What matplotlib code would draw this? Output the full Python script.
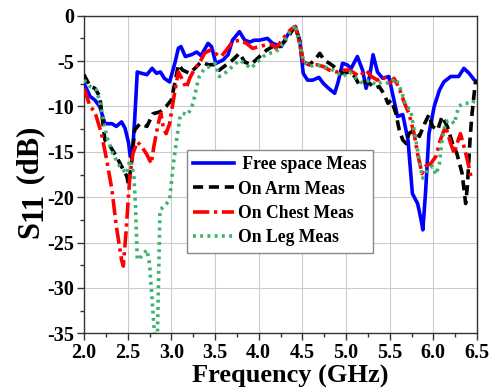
import matplotlib
matplotlib.use("Agg")
import matplotlib.pyplot as plt
from matplotlib.ticker import MultipleLocator

plt.rcParams['font.family'] = ['Liberation Serif', 'DejaVu Serif']
plt.rcParams['font.weight'] = 'bold'

free_f = [2.0, 2.07, 2.125, 2.18, 2.24, 2.32, 2.37, 2.43, 2.47, 2.51, 2.53, 2.56, 2.58, 2.61, 2.66, 2.72, 2.78, 2.83, 2.875, 2.92, 2.98, 3.04, 3.08, 3.11, 3.16, 3.23, 3.29, 3.34, 3.42, 3.46, 3.51, 3.59, 3.65, 3.70, 3.78, 3.84, 3.90, 3.95, 4.01, 4.10, 4.16, 4.26, 4.32, 4.375, 4.42, 4.47, 4.51, 4.56, 4.62, 4.69, 4.74, 4.80, 4.87, 4.91, 4.96, 5.01, 5.06, 5.13, 5.19, 5.23, 5.27, 5.31, 5.36, 5.42, 5.49, 5.54, 5.59, 5.65, 5.71, 5.76, 5.82, 5.86, 5.88, 5.91, 5.95, 6.01, 6.07, 6.12, 6.20, 6.29, 6.35, 6.41, 6.47, 6.50]
free_s = [-7.45, -8.9, -9.3, -10.0, -11.9, -11.9, -12.2, -11.7, -12.4, -14.0, -15.5, -14.4, -11.5, -6.2, -6.35, -6.5, -5.8, -6.35, -6.2, -6.9, -7.3, -5.25, -3.6, -3.4, -4.5, -4.3, -4.0, -4.4, -3.05, -3.4, -5.25, -4.9, -4.3, -2.7, -1.76, -2.7, -2.9, -2.7, -2.7, -2.5, -3.05, -3.4, -2.3, -1.5, -1.2, -2.7, -6.35, -7.1, -7.1, -6.8, -7.45, -8.0, -8.55, -7.3, -5.25, -5.4, -5.8, -4.5, -6.0, -8.0, -6.7, -4.3, -6.2, -6.9, -6.7, -8.9, -11.1, -10.9, -13.7, -19.6, -20.7, -22.5, -23.6, -19.6, -13.0, -10.0, -8.2, -7.3, -6.7, -6.7, -5.8, -6.35, -7.1, -7.3]

arm_f = [2.0, 2.07, 2.125, 2.18, 2.24, 2.30, 2.37, 2.43, 2.49, 2.51, 2.54, 2.58, 2.64, 2.72, 2.79, 2.87, 2.94, 3.0, 3.04, 3.08, 3.13, 3.21, 3.27, 3.34, 3.42, 3.50, 3.55, 3.63, 3.70, 3.78, 3.84, 3.91, 4.01, 4.09, 4.16, 4.24, 4.32, 4.38, 4.42, 4.47, 4.51, 4.58, 4.64, 4.70, 4.75, 4.81, 4.89, 4.96, 5.04, 5.10, 5.15, 5.21, 5.27, 5.33, 5.38, 5.44, 5.48, 5.52, 5.57, 5.61, 5.65, 5.69, 5.72, 5.78, 5.84, 5.90, 5.95, 5.99, 6.05, 6.10, 6.16, 6.22, 6.27, 6.33, 6.37, 6.39, 6.42, 6.44, 6.48, 6.50]
arm_s = [-6.5, -7.8, -8.0, -8.9, -13.7, -14.4, -15.5, -16.6, -17.7, -18.6, -16.6, -12.6, -11.9, -12.2, -10.8, -10.6, -10.0, -9.3, -7.45, -5.4, -6.0, -6.35, -5.8, -5.1, -5.4, -5.4, -6.0, -5.4, -4.9, -4.15, -5.1, -5.4, -4.5, -3.8, -3.4, -3.4, -2.6, -1.7, -1.2, -2.86, -5.1, -5.4, -4.9, -4.15, -4.9, -5.25, -5.8, -6.35, -6.2, -6.7, -7.6, -7.3, -7.45, -8.0, -7.8, -8.7, -9.65, -9.3, -10.75, -12.6, -13.7, -14.1, -13.0, -12.6, -13.3, -11.9, -10.9, -12.2, -12.6, -11.1, -12.2, -14.1, -15.2, -17.4, -20.7, -18.8, -13.7, -11.1, -7.45, -7.1]

chest_f = [2.0, 2.07, 2.125, 2.20, 2.26, 2.32, 2.37, 2.43, 2.45, 2.48, 2.525, 2.56, 2.61, 2.66, 2.72, 2.77, 2.80, 2.85, 2.88, 2.91, 2.94, 2.98, 3.02, 3.08, 3.13, 3.17, 3.21, 3.27, 3.32, 3.38, 3.44, 3.50, 3.57, 3.63, 3.70, 3.78, 3.86, 3.93, 4.01, 4.09, 4.16, 4.20, 4.28, 4.36, 4.42, 4.47, 4.51, 4.58, 4.66, 4.74, 4.81, 4.89, 4.96, 5.04, 5.10, 5.15, 5.23, 5.29, 5.36, 5.42, 5.50, 5.55, 5.61, 5.67, 5.72, 5.78, 5.82, 5.87, 5.91, 5.97, 6.03, 6.08, 6.14, 6.20, 6.24, 6.27, 6.31, 6.35, 6.39, 6.43, 6.45]
chest_s = [-8.0, -10.0, -10.6, -13.0, -15.9, -19.2, -23.2, -26.9, -27.6, -24.0, -17.7, -15.2, -13.9, -14.4, -15.3, -16.3, -14.4, -11.9, -10.75, -12.4, -13.0, -11.9, -9.5, -6.2, -7.1, -8.0, -6.9, -5.8, -5.25, -4.15, -3.8, -4.15, -4.5, -3.8, -2.86, -2.7, -3.05, -3.6, -3.4, -3.2, -3.2, -3.6, -2.5, -1.6, -1.2, -3.05, -5.1, -5.4, -5.4, -5.6, -6.0, -6.2, -6.0, -6.0, -6.35, -6.7, -6.0, -6.7, -7.1, -6.7, -7.45, -6.9, -8.0, -9.65, -10.75, -13.0, -15.2, -17.4, -16.6, -16.3, -15.5, -13.7, -12.2, -14.1, -15.2, -14.1, -13.0, -14.4, -15.9, -17.7, -18.1]

leg_f = [2.0, 2.07, 2.145, 2.20, 2.26, 2.33, 2.41, 2.49, 2.525, 2.57, 2.59, 2.61, 2.66, 2.72, 2.75, 2.78, 2.81, 2.84, 2.87, 2.92, 2.98, 3.02, 3.06, 3.10, 3.13, 3.19, 3.25, 3.29, 3.32, 3.38, 3.44, 3.50, 3.55, 3.63, 3.70, 3.78, 3.84, 3.91, 3.97, 4.05, 4.12, 4.20, 4.28, 4.36, 4.42, 4.46, 4.51, 4.58, 4.66, 4.74, 4.81, 4.89, 4.96, 5.04, 5.12, 5.19, 5.27, 5.34, 5.42, 5.50, 5.57, 5.63, 5.69, 5.74, 5.80, 5.85, 5.88, 5.93, 5.99, 6.03, 6.07, 6.10, 6.14, 6.20, 6.24, 6.29, 6.35, 6.41, 6.45, 6.48]
leg_s = [-7.1, -7.8, -8.2, -10.4, -13.3, -15.2, -16.6, -17.4, -15.9, -17.4, -21.0, -26.9, -26.5, -25.8, -27.3, -31.3, -35.5, -35.5, -21.4, -21.0, -20.3, -16.6, -13.7, -11.1, -10.75, -10.9, -9.65, -7.8, -6.7, -5.8, -5.6, -5.25, -6.7, -6.2, -5.6, -4.9, -5.25, -5.8, -5.25, -4.5, -4.15, -3.96, -3.05, -1.76, -1.0, -2.7, -4.9, -5.6, -5.4, -5.6, -5.8, -6.2, -6.7, -6.2, -6.9, -7.45, -7.1, -7.6, -7.3, -7.45, -6.9, -8.2, -10.0, -10.4, -13.7, -16.6, -17.9, -17.0, -16.6, -17.5, -16.3, -13.7, -11.7, -11.5, -11.9, -10.0, -9.65, -9.65, -9.65, -9.1]

labels = [' Free space Meas', 'On Arm Meas', 'On Chest Meas', 'On Leg Meas']
xticks = [2.0, 2.5, 3.0, 3.5, 4.0, 4.5, 5.0, 5.5, 6.0, 6.5]
yticks = [0, -5, -10, -15, -20, -25, -30, -35]
ylabel_parts = ['S', '11', ' (dB)']

W, H = 495, 392
fig = plt.figure(figsize=(W / 100, H / 100), dpi=100)
ax = fig.add_axes([84 / W, 1 - 333.3 / H, 393 / W, 317.6 / H])

lw = 2.6
ax.plot(free_f, free_s, color='#0000FF', lw=lw, ls='-', label=labels[0], zorder=3)
ax.plot(arm_f, arm_s, color='black', lw=lw, ls=(0, (2.8, 1.6)), label=labels[1], zorder=3)
ax.plot(chest_f, chest_s, color='#FF0000', lw=lw, ls=(0, (4.5, 1.3, 0.9, 1.3)), label=labels[2], zorder=3)
ax.plot(leg_f, leg_s, color='#3CB371', lw=lw, ls=(0, (0.8, 1.2)), label=labels[3], zorder=3)

ax.set_xlim(2.0, 6.5)
ax.set_ylim(-35, 0)
ax.set_xticks(xticks)
ax.set_xticklabels([f"{v:.1f}" for v in xticks])
ax.set_yticks(yticks)
ax.set_yticklabels([str(v) for v in yticks])
ax.xaxis.set_minor_locator(MultipleLocator(0.25))
ax.yaxis.set_minor_locator(MultipleLocator(2.5))
ax.tick_params(which='major', direction='out', length=5, width=1, labelsize=14.5, pad=2,
               color='#333333')
ax.tick_params(which='minor', direction='out', length=3, width=1, color='#333333')
ax.grid(True, which='major', color='#cccccc', lw=0.8)
ax.set_axisbelow(True)
for s in ax.spines.values():
    s.set_color('#333333')
    s.set_linewidth(1.0)

ax.set_xlabel('Frequency (GHz)', fontsize=19, fontweight='bold', labelpad=1)
ax.xaxis.label.set_x((290.5 - 84) / 393)

# y label "S11 (dB)" with a slightly lowered, full-size "11"
renderer = fig.canvas.get_renderer()
ypos = 238.0
base_x = [38.0, 42.0, 38.0]
for part, bx in zip(ylabel_parts, base_x):
    t = fig.text(bx / W, 1 - ypos / H, part, rotation=90, rotation_mode='anchor',
                 ha='left', va='baseline', fontsize=22, fontweight='bold')
    bb = t.get_window_extent(renderer)
    ypos -= bb.height

leg = ax.legend(loc='upper left', bbox_to_anchor=((187 - 84) / 393, (333.3 - 150) / 317.6),
                borderaxespad=0, frameon=True, fancybox=False, edgecolor='#888888',
                framealpha=1, handlelength=2.3, handletextpad=0.25, borderpad=0.35,
                labelspacing=0.42,
                prop={'family': 'Liberation Serif', 'weight': 'bold', 'size': 12.7})
leg.get_frame().set_linewidth(1.0)

fig.savefig('out.png', dpi=100)
